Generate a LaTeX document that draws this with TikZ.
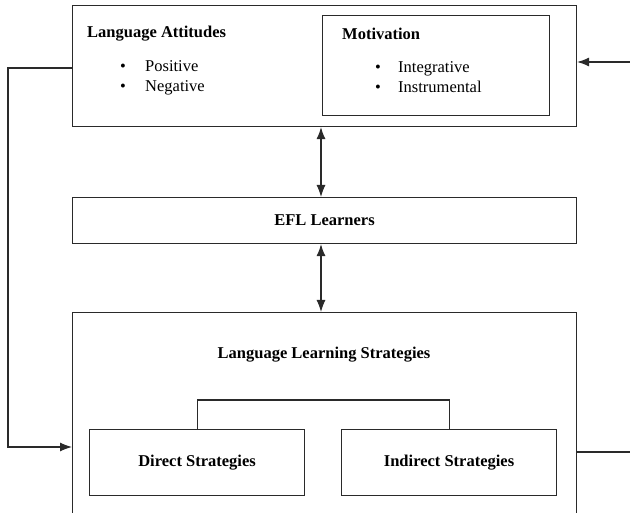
\documentclass[tikz,border=0pt]{standalone}
\usepackage{fontspec}
\setmainfont{Liberation Serif}
\usetikzlibrary{arrows.meta,positioning}
\definecolor{ink}{HTML}{2A2A2A}

\begin{document}
\begin{tikzpicture}[x=1pt,y=-1pt,font=\fontsize{16.5}{20}\selectfont,
   frame/.style={draw=ink,line width=1.1pt,inner sep=0pt,anchor=north west},
   head/.style={font=\fontsize{16.5}{20}\selectfont\bfseries,inner sep=0pt},
   item/.style={inner sep=0pt,anchor=base west},
   link/.style={draw=ink,line width=1.1pt},
   tip/.style={-{Latex[length=12pt,width=9pt]}},
   tips/.style={{Latex[length=12pt,width=9pt]}-{Latex[length=12pt,width=9pt]}}]
  \useasboundingbox (0,0) rectangle (630,513);
  \clip (0,0) rectangle (630,513);

  % attitudes and motivation
  \node[frame,minimum width=504pt,minimum height=121pt] (attitudes) at (72,5) {};
  \node[frame,minimum width=227pt,minimum height=100pt] (motivation) at (322,15) {};
  \node[head,anchor=west] (attT) at (87,34) {Language Attitudes};
  \node[item] (pos) at (120,72) {\makebox[25pt][l]{\textbullet}Positive};
  \node[item] (neg) at (120,92) {\makebox[25pt][l]{\textbullet}Negative};
  \node[head,anchor=west] (motT) at (342,34) {Motivation};
  \node[item] (integ) at (375,73) {\makebox[23pt][l]{\textbullet}Integrative};
  \node[item] (instr) at (375,93) {\makebox[23pt][l]{\textbullet}Instrumental};

  % learners
  \node[frame,minimum width=504pt,minimum height=46pt,font=\fontsize{16.5}{20}\selectfont\bfseries]
    (efl) at (72,197) {EFL Learners};

  % strategies
  \node[frame,minimum width=504pt,minimum height=240pt] (lls) at (72,312) {};
  \node[head] (llsT) at (324,355) {Language Learning Strategies};
  \node[frame,minimum width=215pt,minimum height=66pt,font=\fontsize{16.5}{20}\selectfont\bfseries]
    (direct) at (89,429) {Direct Strategies};
  \node[frame,minimum width=215pt,minimum height=66pt,font=\fontsize{16.5}{20}\selectfont\bfseries]
    (indirect) at (341,429) {Indirect Strategies};
  \draw[link] (direct.north) -- ++(0,-29) -| (indirect.north);

  % connectors
  \draw[link,tips] (attitudes.south -| 321,0) -- (efl.north -| 321,0);
  \draw[link,tips] (efl.south -| 321,0) -- (lls.north -| 321,0);
  \coordinate (inR) at (630,62);
  \draw[link,tip] (inR) -- (inR -| attitudes.east);
  \coordinate (outL) at (8,68);
  \draw[link,tip] (attitudes.west |- outL) -- (outL) |- (lls.west |- 0,447);
  \coordinate (outR) at (630,452);
  \draw[link] (lls.east |- outR) -- (outR);
\end{tikzpicture}
\end{document}
